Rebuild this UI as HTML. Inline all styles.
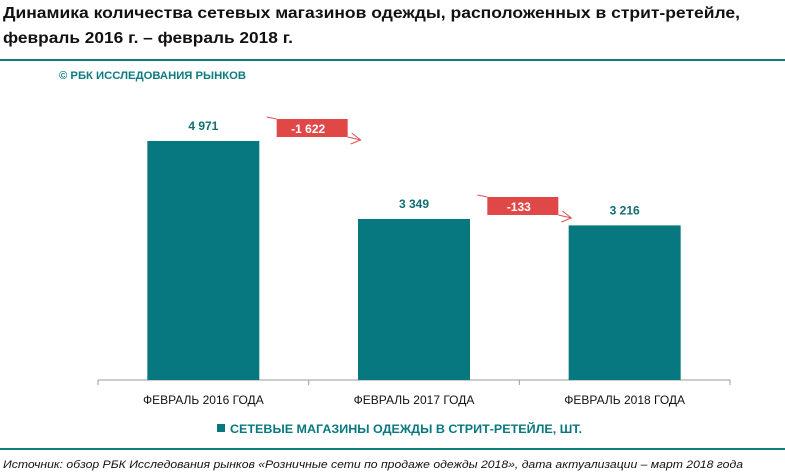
<!DOCTYPE html>
<html><head><meta charset="utf-8"><style>
html,body{margin:0;padding:0;background:#fff;}
svg{display:block;font-family:"Liberation Sans","Noto Sans CJK SC",sans-serif;}
</style></head><body>
<svg id="chart" width="785" height="476" viewBox="0 0 785 476" xmlns="http://www.w3.org/2000/svg">
<text x="3" y="18" font-size="16" font-weight="bold" fill="#111" textLength="737" lengthAdjust="spacingAndGlyphs">Динамика количества сетевых магазинов одежды, расположенных в стрит-ретейле,</text>
<text x="3" y="43" font-size="16" font-weight="bold" fill="#111" textLength="290" lengthAdjust="spacingAndGlyphs">февраль 2016 г. – февраль 2018 г.</text>
<rect x="0" y="59" width="785" height="2" fill="#0e7b80"/>
<text x="59" y="79" font-size="11" font-weight="bold" fill="#0e7b80" textLength="187" lengthAdjust="spacingAndGlyphs">© РБК ИССЛЕДОВАНИЯ РЫНКОВ</text>
<g id="plot"></g>
<rect x="217" y="424" width="8" height="8" fill="#087880"/>
<text x="230" y="433" font-size="12" font-weight="bold" fill="#087880" textLength="352" lengthAdjust="spacingAndGlyphs">СЕТЕВЫЕ МАГАЗИНЫ ОДЕЖДЫ В СТРИТ-РЕТЕЙЛЕ, ШТ.</text>
<rect x="0" y="448" width="785" height="2" fill="#0e7b80"/>
<text x="3" y="468" font-size="11" font-style="italic" fill="#111" textLength="740" lengthAdjust="spacingAndGlyphs">Источник: обзор РБК Исследования рынков «Розничные сети по продаже одежды 2018», дата актуализации – март 2018 года</text>
</svg>
<script>
const categories = ["ФЕВРАЛЬ 2016 ГОДА","ФЕВРАЛЬ 2017 ГОДА","ФЕВРАЛЬ 2018 ГОДА"];
const values = [4971, 3349, 3216];
const valueLabels = ["4 971","3 349","3 216"];
const changeLabels = ["-1 622","-133"];

const NS="http://www.w3.org/2000/svg";
const g=document.getElementById('plot');
const x0=98, x1=730, baseY=380, scale=239/4971;
const band=(x1-x0)/categories.length;
const barW=112;
function xc(i){return x0+band*(i+0.5);}
function y(v){return baseY-v*scale;}
function mk(tag,attrs){const e=document.createElementNS(NS,tag);for(const k in attrs)e.setAttribute(k,attrs[k]);g.appendChild(e);return e;}

const ax=mk('line',{x1:x0,y1:baseY,x2:x1,y2:baseY,stroke:'#999','stroke-width':1});


for(let i=0;i<=categories.length;i++){
  const t=mk('line',{x1:x0+band*i,y1:baseY,x2:x0+band*i,y2:baseY+5,stroke:'#999','stroke-width':1});
  
  
}
values.forEach((v,i)=>{
  const b=mk('rect',{x:xc(i)-barW/2,y:y(v),width:barW,height:baseY-y(v),fill:'#087880'});
  
  
  const l=mk('text',{x:xc(i),y:y(v)-11,'text-anchor':'middle','font-size':12,'font-weight':'bold',fill:'#0e6e73'});
  l.textContent=valueLabels[i];
  
  
  const c=mk('text',{x:xc(i),y:404,'text-anchor':'middle','font-size':12,fill:'#111'});
  c.textContent=categories[i];
  
  
});
changeLabels.forEach((s,i)=>{
  const mid=(xc(i)+xc(i+1))/2;
  const top=y(values[i])-22;
  const bx=mid-32, bw=71, bh=18;
  const ln=mk('path',{d:`M${bx-10} ${top-2} L${bx} ${top} M${bx+bw} ${top+bh} L${bx+bw+13} ${top+21} M${bx+bw+4} ${top+14} L${bx+bw+13} ${top+21} L${bx+bw+3} ${top+25}`,stroke:'#e05050','stroke-width':1,fill:'none'});
  
  
  const r=mk('rect',{x:bx,y:top,width:bw,height:bh,fill:'#e04848'});
  
  
  const t=mk('text',{x:bx+bw/2-4,y:top+14,'text-anchor':'middle','font-size':12,'font-weight':'bold',fill:'#fff'});
  t.textContent=s;
  
  
});
</script>
</body></html>
